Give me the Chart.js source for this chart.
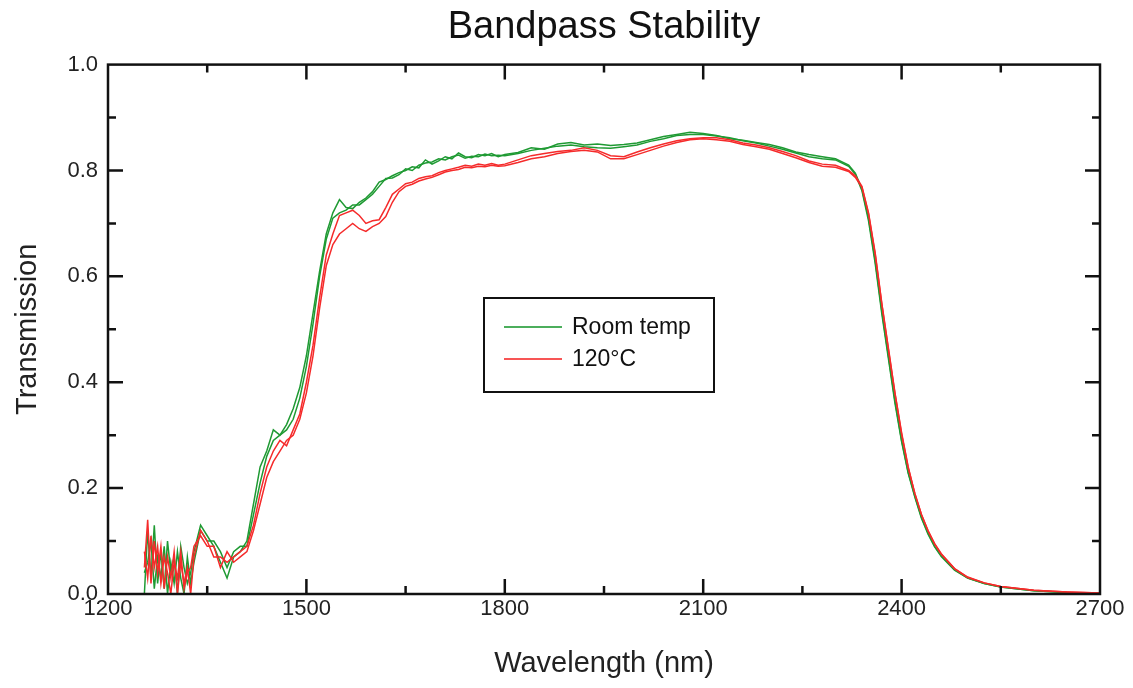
<!DOCTYPE html>
<html>
<head>
<meta charset="utf-8">
<title>Bandpass Stability</title>
<script src="https://cdn.jsdelivr.net/npm/chart.js@4.4.1/dist/chart.umd.min.js"></script>
<style>
    html, body { margin: 0; padding: 0; background: #fff; }
    #wrap { position: relative; width: 1133px; height: 688px; }
</style>
</head>
<body>
<div id="wrap"><canvas id="bandChart"></canvas></div>
<script>
// wavelength in nm
const wavelength = [
    1255, 1260, 1265, 1270, 1275, 1280, 1285, 1290, 1295, 1300, 1305, 1310, 1315, 1320, 1325, 1330,
    1340, 1350, 1360, 1370, 1380, 1390, 1400, 1410,
    1420, 1430, 1440, 1450, 1460, 1470, 1480, 1490, 1500, 1510, 1520, 1530, 1540, 1550, 1560, 1570, 1580, 1590, 1600,
    1610, 1620, 1630, 1640, 1650, 1660, 1670, 1680, 1690, 1700, 1710, 1720, 1730, 1740, 1750, 1760, 1770, 1780, 1790, 1800,
    1820, 1840, 1860, 1880, 1900, 1920, 1940, 1960, 1980, 2000, 2020, 2040, 2060, 2080, 2100,
    2120, 2140, 2160, 2180, 2200, 2220, 2240, 2260, 2280, 2300,
    2320, 2330, 2340, 2350, 2360, 2370, 2380, 2390, 2400, 2410, 2420, 2430, 2440, 2450, 2460, 2480, 2500, 2525, 2550, 2600, 2650, 2700
];

// room temperature, two scans
const roomA = [
    0.00, 0.12, 0.03, 0.13, 0.02, 0.08, 0.01, 0.10, 0.04, 0.07, 0.00, 0.09, 0.05, 0.02, 0.04, 0.08,
    0.13, 0.11, 0.09, 0.06, 0.03, 0.07, 0.08, 0.10,
    0.17, 0.24, 0.27, 0.31, 0.30, 0.32, 0.35, 0.39, 0.45, 0.53, 0.61, 0.68, 0.72, 0.745, 0.73, 0.728, 0.74, 0.748, 0.76,
    0.778, 0.783, 0.79, 0.796, 0.80, 0.807, 0.805, 0.82, 0.812, 0.818, 0.826, 0.822, 0.833, 0.826, 0.824, 0.83, 0.828, 0.832, 0.826, 0.83,
    0.834, 0.843, 0.84, 0.85, 0.853, 0.848, 0.85, 0.847, 0.849, 0.852, 0.858, 0.864, 0.868, 0.872, 0.87,
    0.866, 0.86, 0.857, 0.853, 0.849, 0.843, 0.835, 0.83, 0.826, 0.822,
    0.81, 0.795, 0.765, 0.71, 0.63, 0.535, 0.45, 0.365, 0.29, 0.23, 0.185, 0.145, 0.115, 0.09, 0.072, 0.046, 0.03, 0.02, 0.013, 0.006, 0.003, 0.002
];
const roomB = [
    0.04, 0.06, 0.10, 0.01, 0.07, 0.03, 0.09, 0.00, 0.06, 0.02, 0.08, 0.03, 0.00, 0.07, 0.02, 0.06,
    0.12, 0.10, 0.10, 0.08, 0.05, 0.08, 0.09, 0.09,
    0.15, 0.21, 0.26, 0.29, 0.30, 0.31, 0.33, 0.37, 0.43, 0.51, 0.60, 0.67, 0.71, 0.72, 0.725, 0.735, 0.735, 0.745, 0.755,
    0.77, 0.785, 0.786, 0.792, 0.803, 0.80, 0.81, 0.814, 0.816, 0.822, 0.82, 0.826, 0.829, 0.823, 0.827, 0.826, 0.831, 0.828, 0.829, 0.828,
    0.832, 0.838, 0.842, 0.846, 0.848, 0.845, 0.843, 0.842, 0.845, 0.848, 0.855, 0.86, 0.866, 0.868, 0.868,
    0.865, 0.862, 0.856, 0.852, 0.846, 0.84, 0.833, 0.826, 0.822, 0.82,
    0.808, 0.793, 0.762, 0.705, 0.625, 0.53, 0.445, 0.36, 0.288, 0.228, 0.183, 0.143, 0.113, 0.089, 0.071, 0.045, 0.03, 0.02, 0.013, 0.006, 0.003, 0.002
];

// 120°C, two scans
const hotA = [
    0.05, 0.14, 0.02, 0.10, 0.04, 0.09, 0.01, 0.07, 0.03, 0.08, 0.00, 0.06, 0.02, 0.05, 0.00, 0.07,
    0.12, 0.10, 0.07, 0.07, 0.06, 0.07, 0.08, 0.09,
    0.13, 0.19, 0.24, 0.27, 0.29, 0.28, 0.31, 0.34, 0.40, 0.47, 0.56, 0.64, 0.68, 0.715, 0.72, 0.725, 0.715, 0.70, 0.705,
    0.707, 0.73, 0.755, 0.765, 0.775, 0.778, 0.785, 0.788, 0.79, 0.796, 0.80, 0.803, 0.806, 0.81, 0.808, 0.812, 0.81, 0.813, 0.81, 0.812,
    0.82, 0.828, 0.832, 0.836, 0.838, 0.843, 0.838, 0.828, 0.826, 0.835, 0.843, 0.85, 0.856, 0.86, 0.862,
    0.862, 0.858, 0.852, 0.848, 0.843, 0.836, 0.828, 0.818, 0.812, 0.81,
    0.80, 0.79, 0.77, 0.72, 0.645, 0.55, 0.465, 0.38, 0.305, 0.24, 0.19, 0.15, 0.12, 0.095, 0.076, 0.048, 0.032, 0.021, 0.014, 0.007, 0.004, 0.002
];
const hotB = [
    0.08, 0.03, 0.11, 0.05, 0.09, 0.02, 0.07, 0.04, 0.00, 0.06, 0.03, 0.08, 0.01, 0.04, 0.05, 0.09,
    0.11, 0.09, 0.09, 0.05, 0.08, 0.06, 0.07, 0.08,
    0.12, 0.17, 0.22, 0.25, 0.27, 0.29, 0.30, 0.33, 0.38, 0.45, 0.54, 0.62, 0.66, 0.68, 0.69, 0.70, 0.69, 0.685, 0.694,
    0.70, 0.713, 0.74, 0.76, 0.77, 0.774, 0.78, 0.784, 0.787, 0.792, 0.797, 0.80, 0.802, 0.806, 0.805, 0.808, 0.807, 0.81, 0.808, 0.809,
    0.815, 0.822, 0.826, 0.832, 0.836, 0.838, 0.835, 0.822, 0.822, 0.83, 0.838, 0.846, 0.853, 0.858, 0.86,
    0.858, 0.855, 0.849, 0.845, 0.84, 0.832, 0.824, 0.815, 0.808, 0.806,
    0.798, 0.787, 0.768, 0.718, 0.642, 0.548, 0.462, 0.378, 0.302, 0.238, 0.19, 0.15, 0.119, 0.094, 0.075, 0.048, 0.031, 0.021, 0.014, 0.007, 0.004, 0.002
];

const xTicks = [1200, 1500, 1800, 2100, 2400, 2700];
const yTicks = [0.0, 0.2, 0.4, 0.6, 0.8, 1.0];
const legendLabels = ['Room temp', '120°C'];

const GREEN = '#1f9a33';
const RED = '#f52b2b';
const FONT = 'Liberation Sans, Arial, sans-serif';

function toPoints(values) {
    return wavelength.map((w, i) => ({ x: w, y: values[i] }));
}

function lineSet(label, values, color) {
    return {
        label: label,
        data: toPoints(values),
        borderColor: color,
        backgroundColor: color,
        borderWidth: 1.5,
        pointRadius: 0,
        tension: 0,
        fill: false
    };
}

// box round the plot, ticks pointing inwards on all four sides, and the legend
const framePlugin = {
    id: 'frame',
    afterDraw(chart) {
        const c = chart.ctx;
        const a = chart.chartArea;
        const xs = chart.scales.x;
        const ys = chart.scales.y;
        c.save();
        c.strokeStyle = '#111';
        c.lineWidth = 2.5;
        c.strokeRect(a.left, a.top, a.right - a.left, a.bottom - a.top);

        c.beginPath();
        for (let v = xTicks[0] + 150; v < xTicks[xTicks.length - 1]; v += 150) {
            const len = (v - xTicks[0]) % 300 === 0 ? 15 : 8;
            const px = xs.getPixelForValue(v);
            c.moveTo(px, a.bottom);
            c.lineTo(px, a.bottom - len);
            c.moveTo(px, a.top);
            c.lineTo(px, a.top + len);
        }
        for (let k = 1; k < 10; k++) {
            const len = k % 2 === 0 ? 15 : 8;
            const py = ys.getPixelForValue(k / 10);
            c.moveTo(a.left, py);
            c.lineTo(a.left + len, py);
            c.moveTo(a.right, py);
            c.lineTo(a.right - len, py);
        }
        c.stroke();

        // legend box
        const lx = 484, ly = 298, lw = 230, lh = 94;
        c.fillStyle = '#fff';
        c.fillRect(lx, ly, lw, lh);
        c.lineWidth = 2;
        c.strokeStyle = '#111';
        c.strokeRect(lx, ly, lw, lh);
        const colors = [GREEN, RED];
        c.font = '23px ' + FONT;
        c.textBaseline = 'middle';
        legendLabels.forEach((txt, i) => {
            const y = ly + 29 + i * 32;
            c.strokeStyle = colors[i];
            c.globalAlpha = 0.8;
            c.lineWidth = 2;
            c.beginPath();
            c.moveTo(lx + 20, y);
            c.lineTo(lx + 78, y);
            c.stroke();
            c.globalAlpha = 1;
            c.fillStyle = '#111';
            c.fillText(txt, lx + 88, y + 1);
        });
        c.restore();
    }
};

const ctx = document.getElementById('bandChart').getContext('2d');
let bandChart = new Chart(ctx, {
    type: 'line',
    data: {
        datasets: [
            lineSet('120°C', hotA, RED),
            lineSet('120°C', hotB, RED),
            lineSet('Room temp', roomA, GREEN),
            lineSet('Room temp', roomB, GREEN)
        ]
    },
    options: {
        responsive: true,
        maintainAspectRatio: false,
        animation: false,
        parsing: false,
        layout: {
            padding: { left: 0, right: 33, top: 0, bottom: 0 }
        },
        plugins: {
            legend: { display: false },
            tooltip: { enabled: false },
            title: {
                display: true,
                text: 'Bandpass Stability',
                fullSize: false,
                color: '#111',
                font: { family: FONT, size: 38, weight: 'normal' },
                padding: { top: 5, bottom: 14 }
            }
        },
        scales: {
            x: {
                type: 'linear',
                min: 1200,
                max: 2700,
                afterBuildTicks: (scale) => {
                    scale.ticks = xTicks.map(v => ({ value: v }));
                },
                afterFit: (scale) => { scale.height = 94; },
                grid: { display: false, drawTicks: false },
                border: { display: false },
                ticks: {
                    color: '#222',
                    padding: 2,
                    maxRotation: 0,
                    font: { family: FONT, size: 22 },
                    callback: (v) => String(v)
                },
                title: {
                    display: true,
                    text: 'Wavelength (nm)',
                    color: '#222',
                    font: { family: FONT, size: 29 },
                    padding: { top: 0, bottom: 7 }
                }
            },
            y: {
                min: 0,
                max: 1,
                afterBuildTicks: (scale) => {
                    scale.ticks = yTicks.map(v => ({ value: v }));
                },
                afterFit: (scale) => { scale.width = 108; },
                grid: { display: false, drawTicks: false },
                border: { display: false },
                ticks: {
                    color: '#222',
                    padding: 10,
                    font: { family: FONT, size: 22 },
                    callback: (v) => Number(v).toFixed(1)
                },
                title: {
                    display: true,
                    text: 'Transmission',
                    color: '#222',
                    font: { family: FONT, size: 29 },
                    padding: { top: 11, bottom: 0 }
                }
            }
        }
    },
    plugins: [framePlugin]
});
</script>
</body>
</html>
